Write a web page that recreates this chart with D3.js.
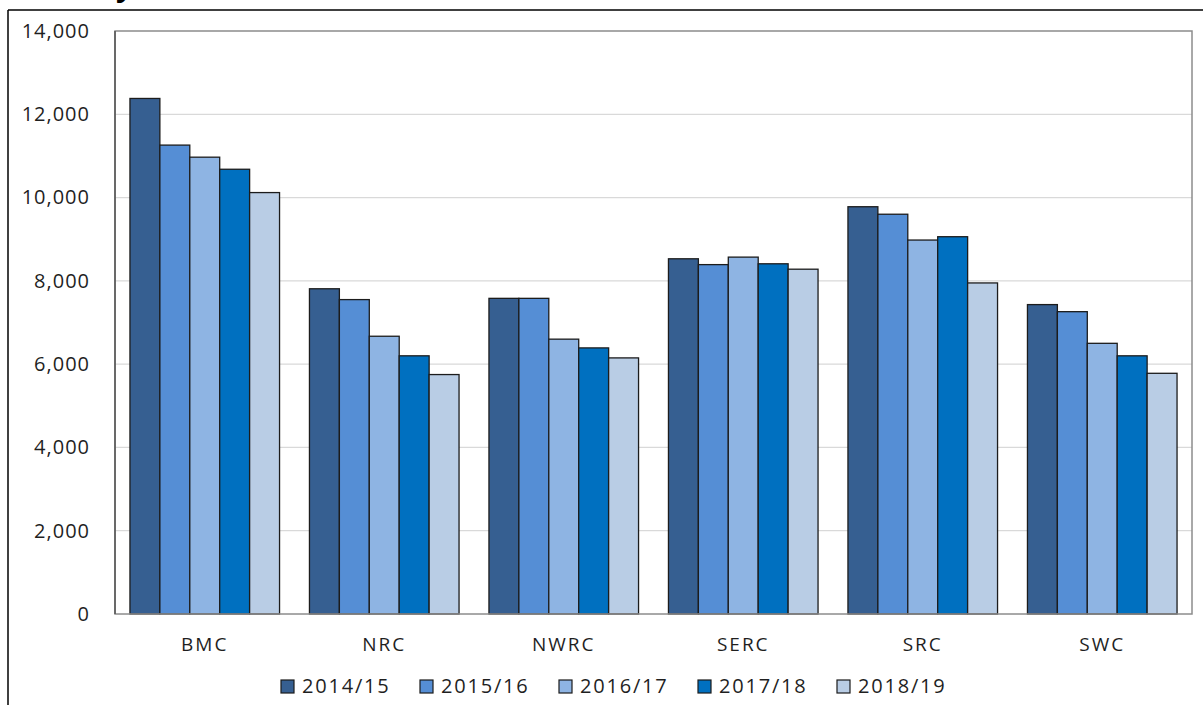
<!DOCTYPE html>
<html>
<head>
<meta charset="utf-8">
<script src="https://cdn.jsdelivr.net/npm/d3@7"></script>
<style>
  body { margin: 0; background: #fff; }
  svg { display: block; }
</style>
</head>
<body>
<svg id="chart" width="1203" height="705"></svg>
<script>
// data
var categories = ["BMC", "NRC", "NWRC", "SERC", "SRC", "SWC"];
var years = ["2014/15", "2015/16", "2016/17", "2017/18", "2018/19"];

var v2014 = [12380, 7810, 7580, 8530, 9780, 7430];
var v2015 = [11260, 7550, 7580, 8390, 9600, 7260];
var v2016 = [10970, 6670, 6600, 8570, 8980, 6500];
var v2017 = [10680, 6200, 6390, 8410, 9060, 6200];
var v2018 = [10120, 5750, 6150, 8280, 7950, 5780];

var yTicks = [0, 2000, 4000, 6000, 8000, 10000, 12000, 14000];

var colors = ["#365f91", "#558ed5", "#8eb4e3", "#0070c0", "#b9cde5"];

var series = [v2014, v2015, v2016, v2017, v2018];

// careful: "top" is taken by window.top, so plot box gets its own names
var svg = d3.select("#chart"),
    pL = 115, pR = 1192, pT = 31, pB = 614,
    font = "'Open Sans', 'DejaVu Sans', sans-serif",
    textCol = "#1f1f1f";

// outer frame (the picture is cut from a bigger page)
svg.append("line").attr("x1", 8).attr("x2", 1203).attr("y1", 10).attr("y2", 10)
    .attr("stroke", "#000").attr("stroke-width", 1.5);
svg.append("line").attr("x1", 8).attr("x2", 8).attr("y1", 10).attr("y2", 705)
    .attr("stroke", "#000").attr("stroke-width", 1.5);
// cut off title, only the tail of a letter is left
svg.append("text").attr("x", 116).attr("y", -4)
    .attr("font-family", font).attr("font-weight", "bold").attr("font-size", 30)
    .attr("fill", "#000").text("y");

//scales
var x = d3.scaleBand().domain(categories).range([pL, pR])
    .paddingInner(1 / 6).paddingOuter(1 / 12);
var xs = d3.scaleBand().domain(years).range([0, x.bandwidth()]);
var y = d3.scaleLinear().domain([0, 14000]).range([pB, pT]);

// gridlines
svg.append("g").selectAll("line")
    .data(yTicks.slice(1, -1))
    .join("line")
    .attr("x1", pL).attr("x2", pR)
    .attr("y1", function(d) { return y(d); })
    .attr("y2", function(d) { return y(d); })
    .attr("stroke", "#d9d9d9").attr("stroke-width", 1.2);

// bars
var rows = categories.map(function(c, i) {
    return { cat: c, vals: years.map(function(yr, j) { return { year: yr, j: j, v: series[j][i] }; }) };
});

svg.append("g").selectAll("g")
    .data(rows)
    .join("g")
    .attr("transform", function(d) { return "translate(" + x(d.cat) + ",0)"; })
    .selectAll("rect")
    .data(function(d) { return d.vals; })
    .join("rect")
    .attr("x", function(d) { return xs(d.year); })
    .attr("width", xs.bandwidth())
    .attr("y", function(d) { return y(d.v); })
    .attr("height", function(d) { return y(0) - y(d.v); })
    .attr("fill", function(d) { return colors[d.j]; })
    .attr("stroke", "#1c1c1c").attr("stroke-width", 1.3);

// plot area border
svg.append("rect").attr("x", pL).attr("y", pT)
    .attr("width", pR - pL).attr("height", pB - pT)
    .attr("fill", "none").attr("stroke", "#8c8c8c").attr("stroke-width", 1.5);
svg.append("line").attr("x1", pL).attr("x2", pL).attr("y1", pT).attr("y2", pB)
    .attr("stroke", "#555").attr("stroke-width", 1.5);

// y axis
svg.append("g")
    .attr("transform", "translate(" + pL + ",0)")
    .call(d3.axisLeft(y).tickValues(yTicks).tickSize(0).tickPadding(25).tickFormat(d3.format(",")))
    .call(function(g) {
        g.select(".domain").remove();
        g.selectAll("text")
            .attr("font-family", font).attr("font-size", 20)
            .attr("letter-spacing", 1).attr("fill", textCol);
    });

// x axis labels
svg.append("g")
    .attr("transform", "translate(0," + pB + ")")
    .call(d3.axisBottom(x).tickSize(0))
    .call(function(g) {
        g.select(".domain").remove();
        g.selectAll("text")
            .attr("dy", null).attr("y", 37)
            .attr("font-family", font).attr("font-size", 19)
            .attr("letter-spacing", 2).attr("fill", textCol);
    });

// legend
var legend = svg.append("g").selectAll("g")
    .data(years)
    .join("g")
    .attr("transform", function(d, i) { return "translate(" + (281 + i * 139) + ",680)"; });

legend.append("rect")
    .attr("width", 13).attr("height", 13)
    .attr("fill", function(d, i) { return colors[i]; })
    .attr("stroke", "#1c1c1c").attr("stroke-width", 1.2);

legend.append("text")
    .attr("x", 21).attr("y", 12.5)
    .attr("font-family", font).attr("font-size", 20)
    .attr("letter-spacing", 1.8).attr("fill", textCol)
    .text(function(d) { return d; });
</script>
</body>
</html>
